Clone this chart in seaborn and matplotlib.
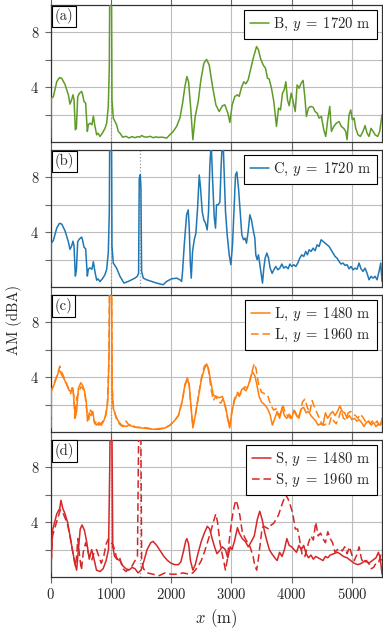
import matplotlib
matplotlib.use("Agg")
import matplotlib.pyplot as plt
import pandas as pd
import seaborn as sns

b_1720 = [(0, 0.3), (10, 3.2), (44, 3.3), (100, 4.4), (144, 4.7), (182, 4.66), (238, 4.2), (293, 3.45),
          (320, 2.77), (348, 3.1), (370, 3.45), (387, 3.1), (409, 0.9), (426, 1.0), (448, 3.3), (475, 3.55),
          (514, 3.7), (530, 3.45), (553, 2.96), (580, 2.84), (608, 0.78), (625, 1.26), (652, 1.38), (685, 1.26),
          (708, 1.9), (735, 1.14), (763, 0.53), (785, 0.65), (818, 0.41), (857, 0.65), (901, 1.0), (929, 1.38),
          (956, 2.6), (973, 5.5), (984, 15), (1006, 15), (1017, 3.1), (1039, 1.75), (1067, 1.5), (1094, 1.26),
          (1122, 0.78), (1150, 0.65), (1194, 0.36), (1250, 0.42), (1300, 0.3), (1350, 0.4), (1400, 0.32),
          (1450, 0.4), (1481, 0.36), (1509, 0.48), (1550, 0.38), (1592, 0.36), (1650, 0.42), (1700, 0.32),
          (1750, 0.38), (1786, 0.34), (1850, 0.36), (1924, 0.29), (1979, 0.53), (2034, 0.78), (2090, 1.14),
          (2145, 1.75), (2189, 2.84), (2228, 4.05), (2261, 4.78), (2289, 4.4), (2322, 2.6), (2360, 0.17),
          (2399, 1.87), (2449, 2.96), (2493, 4.54), (2543, 5.75), (2587, 6.04), (2631, 5.63), (2687, 4.05),
          (2742, 2.72), (2797, 2.23), (2852, 2.65), (2891, 2.72), (2941, 2.11), (2974, 1.43), (3013, 2.72),
          (3057, 3.33), (3101, 3.45), (3129, 3.33), (3168, 4.0), (3206, 4.4), (3240, 4.25), (3278, 4.54),
          (3317, 5.27), (3361, 6.1), (3417, 6.97), (3450, 6.72), (3483, 6.1), (3527, 5.63), (3566, 5.39),
          (3599, 4.66), (3627, 4.6), (3665, 3.93), (3704, 2.96), (3748, 1.14), (3782, 2.48), (3815, 2.35),
          (3848, 3.57), (3876, 3.81), (3904, 4.4), (3931, 3.08), (3959, 2.65), (3992, 3.57), (4025, 2.96),
          (4059, 2.23), (4091, 4.17), (4124, 3.93), (4158, 4.3), (4190, 4.5), (4218, 3.33), (4245, 1.87),
          (4279, 2.48), (4312, 2.6), (4356, 2.55), (4389, 2.23), (4423, 2.11), (4456, 1.75), (4494, 1.87),
          (4533, 0.9), (4566, 0.41), (4599, 1.63), (4633, 2.6), (4660, 0.78), (4699, 1.14), (4743, 1.38),
          (4787, 1.5), (4826, 1.14), (4864, 1.0), (4898, 0.78), (4920, 0.17), (4953, 2.0), (4981, 2.35),
          (5008, 1.63), (5036, 1.75), (5064, 1.0), (5102, 0.53), (5141, 0.41), (5185, 0.78), (5219, 1.2),
          (5252, 0.65), (5285, 0.41), (5318, 1.0), (5352, 0.78), (5385, 0.53), (5429, 0.41), (5462, 0.78),
          (5500, 2.0)]

c_1720 = [(0, 0.3), (10, 3.2), (44, 3.4), (100, 4.3), (144, 4.65), (182, 4.6), (238, 4.1), (293, 3.3),
          (320, 2.75), (348, 3.0), (370, 3.35), (387, 3.0), (409, 0.8), (426, 1.2), (448, 3.3), (475, 3.5),
          (514, 3.65), (530, 3.4), (553, 2.9), (580, 2.8), (608, 0.8), (625, 1.3), (652, 1.4), (685, 1.3),
          (708, 1.85), (735, 1.1), (763, 0.5), (785, 0.6), (818, 0.4), (857, 0.6), (901, 0.9), (929, 1.3),
          (956, 2.5), (973, 5.5), (984, 15), (1006, 15), (1017, 3.0), (1039, 1.75), (1094, 1.38), (1150, 0.78),
          (1216, 0.29), (1288, 0.41), (1343, 0.53), (1398, 0.65), (1437, 0.78), (1459, 1.0), (1470, 7.9),
          (1487, 8.2), (1498, 7.2), (1509, 1.14), (1537, 0.65), (1592, 0.53), (1675, 0.41), (1758, 0.29),
          (1868, 0.17), (1924, 0.41), (2007, 0.6), (2090, 0.65), (2145, 0.53), (2173, 0.41), (2189, 1.14),
          (2217, 3.08), (2256, 5.27), (2283, 5.63), (2300, 4.3), (2317, 1.87), (2333, 0.65), (2355, 2.6),
          (2383, 3.45), (2410, 3.93), (2438, 5.75), (2466, 8.18), (2488, 7.2), (2515, 5.5), (2543, 4.9),
          (2570, 4.66), (2598, 4.17), (2620, 5.5), (2642, 8.9), (2664, 10.5), (2687, 7.9), (2714, 5.15),
          (2736, 4.3), (2753, 6.0), (2781, 6.0), (2808, 6.2), (2830, 8.9), (2847, 10.5), (2863, 10.5),
          (2880, 8.4), (2902, 5.5), (2930, 3.81), (2963, 2.35), (2991, 1.63), (3018, 3.08), (3046, 6.0),
          (3068, 8.18), (3090, 8.4), (3118, 7.2), (3145, 5.5), (3173, 3.81), (3201, 3.45), (3228, 3.57),
          (3250, 3.2), (3278, 4.05), (3306, 5.27), (3333, 4.9), (3361, 4.17), (3389, 3.57), (3405, 2.35),
          (3427, 2.0), (3449, 2.35), (3472, 1.63), (3494, 0.9), (3516, 0.29), (3538, 1.38), (3560, 2.11),
          (3588, 2.48), (3616, 2.11), (3643, 1.38), (3676, 1.0), (3704, 1.26), (3737, 1.5), (3770, 1.26),
          (3804, 1.38), (3837, 1.68), (3870, 1.38), (3904, 1.5), (3942, 1.33), (3970, 1.68), (4002, 1.5),
          (4035, 1.63), (4069, 1.5), (4102, 1.75), (4135, 2.11), (4168, 2.35), (4201, 2.23), (4234, 2.6),
          (4262, 2.35), (4290, 2.72), (4323, 2.6), (4356, 2.84), (4389, 2.65), (4423, 3.08), (4456, 2.96),
          (4489, 3.45), (4522, 3.33), (4555, 3.2), (4589, 3.08), (4622, 2.96), (4655, 2.72), (4688, 2.48),
          (4721, 2.23), (4754, 2.11), (4787, 1.87), (4820, 1.68), (4853, 1.75), (4886, 1.58), (4920, 1.63),
          (4953, 1.33), (4986, 1.5), (5019, 1.26), (5053, 1.38), (5086, 1.3), (5119, 1.75), (5152, 1.33),
          (5185, 1.14), (5219, 1.38), (5252, 1.0), (5285, 0.53), (5318, 0.78), (5352, 0.65), (5385, 0.78),
          (5418, 0.53), (5451, 1.14), (5479, 1.75), (5500, 0.4)]

l_1480 = [(0, 0.3), (10, 3.0), (50, 3.4), (100, 4.0), (140, 4.5), (160, 4.4), (190, 4.1), (230, 3.8),
          (270, 3.4), (310, 3.0), (340, 3.0), (370, 3.2), (390, 2.0), (410, 1.1), (430, 1.5), (460, 3.2),
          (500, 3.6), (530, 3.4), (560, 3.0), (590, 2.2), (610, 0.8), (640, 1.4), (670, 1.2), (700, 1.5),
          (720, 0.8), (760, 0.5), (800, 0.7), (840, 0.5), (880, 0.8), (920, 1.3), (950, 2.4), (970, 6.0),
          (985, 15), (1005, 15), (1020, 3.0), (1040, 1.7), (1080, 1.2), (1120, 0.8), (1180, 0.5), (1250, 0.4),
          (1300, 0.5), (1400, 0.35), (1500, 0.3), (1600, 0.25), (1700, 0.2), (1800, 0.2), (1900, 0.3),
          (1980, 0.5), (2050, 0.8), (2120, 1.2), (2180, 2.2), (2230, 3.5), (2270, 3.95), (2300, 3.4),
          (2330, 1.8), (2360, 0.3), (2400, 1.2), (2450, 2.5), (2500, 3.8), (2550, 4.6), (2590, 4.95),
          (2620, 4.6), (2660, 3.6), (2700, 2.7), (2750, 2.6), (2800, 2.5), (2850, 2.6), (2900, 1.9),
          (2940, 1.0), (2970, 0.3), (3010, 1.5), (3050, 2.3), (3100, 2.8), (3130, 2.6), (3170, 3.1),
          (3200, 3.2), (3240, 3.0), (3280, 3.4), (3320, 4.0), (3350, 4.4), (3390, 4.1), (3420, 3.5),
          (3460, 2.6), (3500, 2.2), (3550, 2.0), (3600, 1.7), (3640, 1.3), (3680, 0.5), (3720, 1.0),
          (3760, 1.5), (3800, 1.0), (3840, 1.8), (3880, 1.2), (3920, 1.0), (3960, 1.3), (4000, 1.0),
          (4040, 1.6), (4080, 1.2), (4120, 1.0), (4160, 1.7), (4200, 1.8), (4240, 1.4), (4280, 1.5),
          (4320, 1.2), (4360, 1.0), (4400, 0.8), (4440, 0.5), (4480, 0.6), (4520, 0.5), (4560, 1.4),
          (4600, 1.0), (4640, 1.3), (4680, 1.5), (4720, 1.2), (4760, 1.5), (4800, 1.9), (4840, 1.5),
          (4880, 1.4), (4920, 1.0), (4960, 1.2), (5000, 0.9), (5040, 1.0), (5080, 0.8), (5120, 0.9),
          (5160, 0.7), (5200, 0.4), (5240, 0.7), (5280, 0.8), (5320, 0.5), (5360, 0.7), (5400, 0.4),
          (5440, 0.6), (5480, 0.5), (5500, 1.0)]

l_1960 = [(0, 0.3), (10, 3.0), (60, 3.6), (110, 4.2), (150, 4.8), (180, 4.4), (220, 4.0), (260, 3.6),
          (300, 3.1), (330, 2.8), (360, 3.3), (385, 2.6), (400, 1.0), (430, 2.5), (460, 2.8), (500, 3.3),
          (530, 3.2), (570, 2.7), (600, 1.5), (630, 0.9), (660, 1.6), (700, 1.3), (730, 0.6), (760, 0.8),
          (800, 0.5), (850, 0.7), (900, 1.0), (940, 2.0), (965, 5.0), (985, 15), (1005, 15), (1020, 3.5),
          (1040, 1.8), (1080, 1.1), (1120, 0.7), (1160, 0.5), (1200, 0.4), (1250, 0.8), (1300, 0.5),
          (1350, 0.6), (1400, 0.35), (1500, 0.35), (1600, 0.3), (1700, 0.2), (1800, 0.25), (1900, 0.3),
          (1980, 0.5), (2050, 0.8), (2120, 1.2), (2180, 2.2), (2230, 3.4), (2270, 3.9), (2300, 3.4),
          (2330, 1.8), (2360, 0.4), (2400, 1.2), (2450, 2.6), (2500, 3.9), (2550, 4.8), (2600, 5.0),
          (2630, 4.2), (2660, 3.2), (2700, 2.3), (2740, 2.6), (2780, 2.3), (2820, 2.1), (2860, 2.4),
          (2900, 1.8), (2940, 0.9), (2970, 0.4), (3010, 1.6), (3050, 2.4), (3100, 2.9), (3140, 2.7),
          (3180, 3.0), (3220, 3.3), (3260, 3.2), (3300, 3.6), (3340, 4.4), (3380, 5.0), (3410, 4.6),
          (3450, 3.5), (3500, 2.9), (3550, 2.8), (3600, 2.7), (3650, 2.0), (3700, 1.6), (3740, 1.7),
          (3780, 1.2), (3820, 1.4), (3860, 1.9), (3900, 1.3), (3940, 1.2), (3980, 1.0), (4020, 1.3),
          (4060, 1.5), (4100, 1.0), (4140, 1.4), (4180, 2.2), (4220, 2.4), (4260, 1.8), (4300, 1.4),
          (4340, 2.3), (4380, 1.8), (4420, 1.4), (4460, 1.0), (4500, 0.6), (4540, 0.5), (4580, 0.6),
          (4620, 0.5), (4660, 1.1), (4700, 0.8), (4740, 0.6), (4780, 1.0), (4820, 1.6), (4860, 1.0),
          (4900, 0.9), (4940, 1.4), (4980, 1.5), (5020, 1.3), (5060, 1.2), (5100, 1.0), (5140, 1.3),
          (5180, 1.1), (5220, 0.8), (5260, 0.9), (5300, 0.6), (5340, 0.8), (5380, 0.6), (5420, 0.8),
          (5460, 0.4), (5500, 0.9)]

s_1480 = [(0, 0.3), (30, 3.4), (100, 4.6), (150, 5.0), (170, 5.6), (200, 5.0), (230, 4.7), (280, 4.0),
          (320, 3.0), (360, 2.0), (400, 1.0), (430, 0.5), (460, 2.0), (490, 3.5), (520, 3.8), (560, 3.4),
          (600, 2.5), (640, 1.3), (680, 2.0), (720, 1.3), (760, 0.5), (820, 0.4), (870, 0.6), (920, 1.2),
          (960, 2.0), (980, 8.0), (995, 15), (1010, 15), (1030, 2.2), (1060, 1.5), (1100, 1.3), (1150, 1.2),
          (1200, 0.8), (1250, 0.6), (1300, 0.5), (1350, 0.7), (1400, 0.6), (1450, 0.3), (1500, 0.5),
          (1550, 1.2), (1600, 2.0), (1660, 2.5), (1700, 2.6), (1760, 2.3), (1820, 1.9), (1880, 1.5),
          (1940, 1.2), (2000, 1.0), (2060, 0.9), (2120, 0.9), (2160, 1.1), (2200, 1.8), (2240, 2.6),
          (2260, 2.8), (2290, 2.4), (2320, 1.2), (2360, 0.5), (2400, 0.9), (2450, 1.8), (2500, 2.6),
          (2550, 3.2), (2600, 3.7), (2640, 3.5), (2680, 2.8), (2720, 2.2), (2760, 1.7), (2800, 1.9),
          (2850, 2.2), (2900, 2.0), (2940, 1.4), (2980, 2.2), (3010, 2.0), (3050, 2.6), (3100, 3.6),
          (3130, 3.2), (3180, 2.8), (3230, 2.6), (3280, 2.2), (3320, 2.5), (3380, 3.0), (3430, 4.2),
          (3470, 4.8), (3510, 4.2), (3550, 3.3), (3590, 2.6), (3630, 2.0), (3670, 1.7), (3720, 1.4),
          (3760, 1.2), (3800, 1.8), (3840, 1.5), (3880, 2.0), (3920, 2.8), (3960, 2.3), (4000, 2.2),
          (4040, 2.0), (4080, 1.8), (4120, 2.3), (4160, 2.0), (4200, 2.3), (4240, 1.7), (4280, 1.4),
          (4320, 1.6), (4360, 1.3), (4400, 1.5), (4440, 1.4), (4480, 1.3), (4520, 1.2), (4560, 1.5),
          (4600, 1.4), (4640, 1.6), (4700, 1.7), (4760, 1.8), (4800, 1.7), (4860, 1.5), (4920, 1.4),
          (4980, 1.2), (5040, 1.0), (5100, 0.9), (5160, 1.0), (5220, 1.2), (5280, 1.0), (5340, 1.2),
          (5400, 1.4), (5440, 1.8), (5470, 1.4), (5500, 0.2)]

s_1960 = [(0, 0.3), (30, 3.0), (70, 3.6), (110, 4.2), (160, 4.9), (200, 4.7), (240, 4.3), (280, 3.8),
          (320, 3.0), (350, 2.2), (380, 1.5), (410, 0.8), (430, 1.5), (450, 2.8), (480, 1.5), (510, 0.5),
          (540, 1.8), (580, 2.5), (610, 2.0), (640, 1.5), (680, 1.2), (720, 1.8), (760, 2.0), (800, 1.5),
          (840, 1.0), (880, 1.5), (920, 2.4), (960, 2.8), (1000, 2.5), (1030, 2.4), (1060, 2.0), (1100, 1.3),
          (1140, 1.5), (1170, 1.0), (1200, 0.6), (1250, 0.4), (1300, 0.6), (1350, 0.8), (1400, 1.2),
          (1440, 1.5), (1470, 15), (1490, 15), (1510, 1.2), (1540, 0.6), (1600, 0.3), (1700, 0.2),
          (1800, 0.1), (1900, 0.3), (2000, 0.2), (2100, 0.2), (2200, 0.3), (2300, 0.2), (2360, 0.3),
          (2400, 0.5), (2450, 0.8), (2500, 1.2), (2550, 1.8), (2600, 2.5), (2650, 3.2), (2700, 4.0),
          (2740, 4.6), (2770, 4.0), (2810, 2.5), (2850, 1.6), (2880, 1.0), (2900, 0.5), (2930, 1.2),
          (2960, 2.5), (3000, 4.0), (3040, 5.0), (3070, 5.6), (3100, 5.3), (3140, 4.5), (3180, 3.3),
          (3230, 2.8), (3270, 2.5), (3310, 2.2), (3360, 1.5), (3390, 0.8), (3420, 0.5), (3450, 1.4),
          (3480, 2.5), (3510, 3.6), (3540, 3.7), (3580, 3.6), (3620, 3.5), (3660, 3.8), (3700, 3.9),
          (3740, 4.2), (3780, 4.5), (3840, 5.3), (3900, 6.0), (3940, 5.7), (3980, 5.2), (4020, 4.6),
          (4060, 3.5), (4100, 3.5), (4140, 2.5), (4180, 1.5), (4220, 1.5), (4280, 2.5), (4320, 3.0),
          (4360, 2.7), (4400, 4.0), (4440, 3.0), (4480, 3.2), (4520, 2.8), (4560, 2.5), (4600, 3.3),
          (4640, 2.8), (4680, 2.5), (4720, 1.8), (4760, 2.0), (4800, 2.1), (4840, 1.9), (4880, 2.2),
          (4920, 1.7), (4960, 2.2), (5000, 1.6), (5040, 1.2), (5080, 1.6), (5120, 2.2), (5160, 1.3),
          (5200, 1.0), (5240, 1.2), (5280, 1.0), (5320, 0.6), (5360, 0.7), (5400, 1.0), (5440, 1.0),
          (5480, 1.6), (5500, 1.2)]

panel_tags = ["(a)", "(b)", "(c)", "(d)"]
turbine_x = [[1000], [1000, 1480], [1000], [1000, 1480]]
x_ticks = [0, 1000, 2000, 3000, 4000, 5000]
y_ticks = [2, 4, 6, 8]
y_ticklabels = ["", "4", "", "8"]

green, blue, orange, red = "#5f9b27", "#1f77b4", "#ff7f0e", "#d62728"
solid, dashed = "-", (0, (5, 2.5))

panels = [
    [(b_1720, r"B, $y\;=\;1720$ m", green, solid)],
    [(c_1720, r"C, $y\;=\;1720$ m", blue, solid)],
    [(l_1480, r"L, $y\;=\;1480$ m", orange, solid), (l_1960, r"L, $y\;=\;1960$ m", orange, dashed)],
    [(s_1480, r"S, $y\;=\;1480$ m", red, solid), (s_1960, r"S, $y\;=\;1960$ m", red, dashed)],
]

sns.set_theme(style="ticks")
plt.rcParams.update({
    "font.family": "serif",
    "font.serif": ["cmr10", "DejaVu Serif"],
    "mathtext.fontset": "cm",
    "axes.formatter.use_mathtext": True,
    "font.size": 10.5,
})

fig, axes = plt.subplots(4, 1, figsize=(3.83, 6.31), dpi=100, sharex=True)
fig.subplots_adjust(left=0.1324, right=0.9974, top=0.992, bottom=0.0856, hspace=0.058)

for ax, series, tag, tx in zip(axes, panels, panel_tags, turbine_x):
    for xv in tx:
        ax.axvline(xv, color="#999999", ls=":", lw=0.9, zorder=1.5)
    for pts, label, color, ls in series:
        df = pd.DataFrame(pts, columns=["x", "AM"])
        sns.lineplot(data=df, x="x", y="AM", ax=ax, color=color, linestyle=ls,
                     lw=1.1, label=label, zorder=3)
    ax.set_xlim(0, 5500)
    ax.set_ylim(0, 10)
    ax.set_xticks(x_ticks)
    ax.set_yticks(y_ticks)
    ax.set_yticklabels(y_ticklabels)
    ax.grid(True, color="#bdbdbd", lw=0.8, zorder=0)
    ax.set_axisbelow(True)
    ax.set_xlabel("")
    ax.set_ylabel("")
    ax.tick_params(direction="out", length=4, width=0.8, color="#666666",
                   labelsize=10.5, top=True)
    ax.tick_params(axis="y", pad=5)
    ax.tick_params(axis="x", pad=3)
    for sp in ax.spines.values():
        sp.set_color("#333333")
        sp.set_linewidth(0.9)
    leg = ax.legend(loc="upper right", fontsize=10.5, frameon=True, fancybox=False,
                    framealpha=1, edgecolor="black", handlelength=1.3, handletextpad=0.3,
                    borderpad=0.4, borderaxespad=0.35, labelspacing=0.25)
    leg.get_frame().set_linewidth(0.8)
    ax.text(0.012, 0.975, tag, transform=ax.transAxes, ha="left", va="top", fontsize=10.5,
            bbox=dict(boxstyle="square,pad=0.2", fc="white", ec="black", lw=0.8), zorder=5)

axes[-1].set_xlabel("$x$ (m)", labelpad=4)
fig.text(0.037, 0.493, "AM (dBA)", rotation=90, ha="center", va="center", fontsize=10.5)

fig.savefig("out.png", dpi=100)
